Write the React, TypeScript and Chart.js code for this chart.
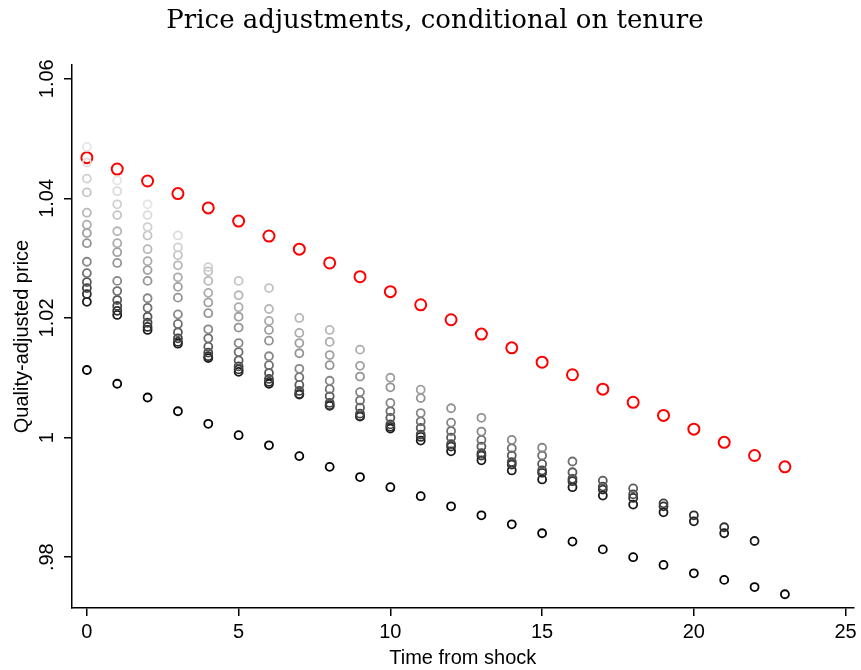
import React, { useEffect, useRef } from "react";
import { Chart, registerables } from "chart.js";
Chart.register(...registerables);

const xTicks = [0, 5, 10, 15, 20, 25];
const yTicks = [0.98, 1, 1.02, 1.04, 1.06];
const yTickLabels = [".98", "1", "1.02", "1.04", "1.06"];

const redSeries = [1.0468, 1.0449, 1.0429, 1.0408, 1.0384, 1.0362, 1.0337, 1.0315, 1.0292, 1.0269, 1.0244, 1.0222, 1.0197, 1.0173, 1.015, 1.0126, 1.0105, 1.0081, 1.0059, 1.0037, 1.0014, 0.9992, 0.997, 0.9951];
const blackSeries = [1.0113, 1.009, 1.0067, 1.0044, 1.0023, 1.0004, 0.9987, 0.9969, 0.9951, 0.9934, 0.9917, 0.9902, 0.9885, 0.987, 0.9855, 0.984, 0.9826, 0.9813, 0.98, 0.9787, 0.9773, 0.9762, 0.975, 0.9738];

const greyShades = ["#e6e6e6", "#dcdcdc", "#d0d0d0", "#c4c4c4", "#b8b8b8", "#acacac", "#a0a0a0", "#949494", "#888888", "#707070", "#5a5a5a", "#444444", "#303030", "#1a1a1a"];
const greyA = [1.0486, 1.043, 1.039];
const greyB = [1.046, 1.0412, 1.0372, 1.0338];
const greyC = [1.0433, 1.039, 1.0352, 1.0318, 1.0285];
const greyD = [1.041, 1.0372, 1.0338, 1.0305, 1.0278, 1.0262, 1.025];
const greyE = [1.0376, 1.0345, 1.0315, 1.0288, 1.0262, 1.0238, 1.0215, 1.02, 1.018];
const greyF = [1.0356, 1.0325, 1.0295, 1.0268, 1.0242, 1.0218, 1.0195, 1.0175, 1.016, 1.0147];
const greyG = [1.0342, 1.031, 1.028, 1.0252, 1.0226, 1.0202, 1.018, 1.0158, 1.0138, 1.012, 1.01, 1.008];
const greyH = [1.0325, 1.0292, 1.0262, 1.0234, 1.0208, 1.0184, 1.0162, 1.0141, 1.0121, 1.0102, 1.0084, 1.0066, 1.0049, 1.0033];
const greyI = [1.0294, 1.0262, 1.0233, 1.0206, 1.0181, 1.0158, 1.0136, 1.0115, 1.0095, 1.0076, 1.0058, 1.0041, 1.0025, 1.001, 0.9996, 0.9983];
const greyJ = [1.0275, 1.0245, 1.0217, 1.019, 1.0166, 1.0143, 1.0121, 1.0101, 1.0081, 1.0062, 1.0044, 1.0027, 1.0011, 0.9996, 0.9982, 0.997, 0.996];
const greyK = [1.026, 1.023, 1.0202, 1.0176, 1.0152, 1.0129, 1.0108, 1.0088, 1.0069, 1.005, 1.0033, 1.0016, 1.0, 0.9985, 0.997, 0.9956, 0.9942, 0.9928, 0.9915];
const greyL = [1.025, 1.022, 1.0192, 1.0166, 1.0142, 1.0119, 1.0098, 1.0078, 1.0058, 1.004, 1.0022, 1.0005, 0.9989, 0.9974, 0.9959, 0.9945, 0.9931, 0.9918, 0.9905, 0.989];
const greyM = [1.024, 1.0212, 1.0185, 1.016, 1.0136, 1.0114, 1.0093, 1.0073, 1.0054, 1.0036, 1.0018, 1.0001, 0.9985, 0.997, 0.9955, 0.9941, 0.9927, 0.9913, 0.9899, 0.9885, 0.987, 0.985];
const greyN = [1.0227, 1.0205, 1.018, 1.0157, 1.0133, 1.011, 1.009, 1.0072, 1.0053, 1.0035, 1.0015, 0.9995, 0.9977, 0.9962, 0.9945, 0.993, 0.9917, 0.9903, 0.9888, 0.9875, 0.986, 0.984, 0.9827];
const greySeries = [greyA, greyB, greyC, greyD, greyE, greyF, greyG, greyH, greyI, greyJ, greyK, greyL, greyM, greyN];

const toPts = (arr: number[]) => arr.map((y, x) => ({ x, y }));
const SANS = "'Liberation Sans', Arial, sans-serif";

export default function App() {
  const ref = useRef<HTMLCanvasElement>(null);
  useEffect(() => {
    document.body.style.margin = "0";
    const datasets: any[] = [];
    greySeries.forEach((s, i) => datasets.push({ data: toPts(s), borderColor: greyShades[i], backgroundColor: "transparent", pointRadius: 4, borderWidth: 1.8 }));
    datasets.push({ data: toPts(blackSeries), borderColor: "#000", backgroundColor: "transparent", pointRadius: 4, borderWidth: 1.8 });
    datasets.push({ data: toPts(redSeries), borderColor: "#ff0000", backgroundColor: "transparent", pointRadius: 5.5, borderWidth: 2 });
    const custom = {
      id: "custom",
      afterDraw(chart: any) {
        const ctx = chart.ctx;
        const ys = chart.scales.y;
        const ca = chart.chartArea;
        ctx.save();
        ctx.fillStyle = "#000";
        ctx.font = "26px 'DejaVu Serif', 'Liberation Serif', serif";
        ctx.textAlign = "center";
        ctx.textBaseline = "middle";
        ctx.fillText("Price adjustments, conditional on tenure", 435, 21);
        ctx.font = "20px " + SANS;
        yTicks.forEach((v, i) => {
          const py = ys.getPixelForValue(v);
          ctx.save();
          ctx.translate(ca.left - 25, py);
          ctx.rotate(-Math.PI / 2);
          ctx.fillText(yTickLabels[i], 0, 0);
          ctx.restore();
        });
        ctx.save();
        ctx.translate(22, (ca.top + ca.bottom) / 2);
        ctx.rotate(-Math.PI / 2);
        ctx.font = "20px " + SANS;
        ctx.fillText("Quality-adjusted price", 0, 0);
        ctx.restore();
        ctx.restore();
      },
    };
    const chart = new Chart(ref.current!, {
      type: "scatter",
      data: { datasets },
      plugins: [custom],
      options: {
        animation: false,
        responsive: false,
        layout: { padding: { top: 65, left: 64, right: 6, bottom: 0 } },
        plugins: { legend: { display: false }, tooltip: { enabled: false } },
        scales: {
          x: {
            type: "linear", min: -0.49, max: 25.26,
            afterBuildTicks: (s: any) => { s.ticks = xTicks.map((v) => ({ value: v })); },
            afterFit: (s: any) => { s.height = 62; },
            grid: { drawOnChartArea: false, tickLength: 8, color: "#000", lineWidth: 1.5 },
            border: { color: "#000", width: 1.5 },
            ticks: { color: "#000", font: { size: 20, family: SANS }, padding: 4, maxRotation: 0 },
            title: { display: true, text: "Time from shock", color: "#000", font: { size: 20, family: SANS }, padding: { top: 0, bottom: 0 } },
          },
          y: {
            type: "linear", min: 0.9715, max: 1.0623,
            afterBuildTicks: (s: any) => { s.ticks = yTicks.map((v) => ({ value: v })); },
            afterFit: (s: any) => { s.width = 8; },
            grid: { drawOnChartArea: false, tickLength: 8, color: "#000", lineWidth: 1.5 },
            border: { color: "#000", width: 1.5 },
            ticks: { display: false },
          },
        },
      },
    });
    return () => chart.destroy();
  }, []);
  return <canvas ref={ref} width={861} height={670} style={{ display: "block" }} />;
}
